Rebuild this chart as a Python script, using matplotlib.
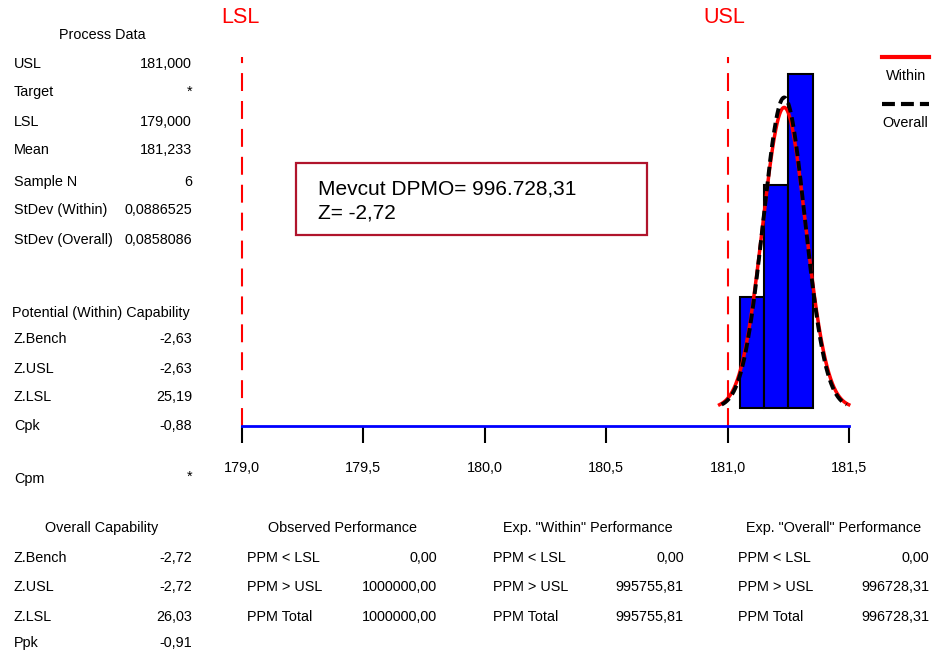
import numpy as np
import matplotlib
matplotlib.use("Agg")
import matplotlib.pyplot as plt
from matplotlib.lines import Line2D
from matplotlib.patches import Rectangle

# ---------------- data ----------------
usl = 181.0
lsl = 179.0
mean = 181.233
n_samples = 6
sd_within = 0.0886525
sd_overall = 0.0858086

bin_left = [181.05, 181.15, 181.25]
bin_width = 0.1
bin_counts = [1, 2, 3]

tick_values = [179.0, 179.5, 180.0, 180.5, 181.0, 181.5]
tick_labels = ["179,0", "179,5", "180,0", "180,5", "181,0", "181,5"]

process_labels = ["USL", "Target", "LSL", "Mean", "Sample N", "StDev (Within)", "StDev (Overall)"]
process_values = ["181,000", "*", "179,000", "181,233", "6", "0,0886525", "0,0858086"]

potential_labels = ["Z.Bench", "Z.USL", "Z.LSL", "Cpk"]
potential_values = ["-2,63", "-2,63", "25,19", "-0,88"]

overall_labels = ["Z.Bench", "Z.USL", "Z.LSL", "Ppk"]
overall_values = ["-2,72", "-2,72", "26,03", "-0,91"]

perf_labels = ["PPM < LSL", "PPM > USL", "PPM Total"]
observed_values = ["0,00", "1000000,00", "1000000,00"]
within_values = ["0,00", "995755,81", "995755,81"]
overall_perf_values = ["0,00", "996728,31", "996728,31"]

box_lines = ["Mevcut DPMO= 996.728,31", "Z= -2,72"]

# ---------------- figure ----------------
W, H = 935, 657
fig = plt.figure(figsize=(W / 100, H / 100), dpi=100)
fig.patch.set_facecolor("white")
FAM = ["Liberation Sans", "DejaVu Sans"]
FS = 10.4


def T(x, y, s, ha="left", size=FS, color="black"):
    fig.text(x / W, 1 - y / H, s, ha=ha, va="baseline", fontsize=size,
             color=color, family=FAM)


# histogram axes
y0, y1 = -0.1617, 3.171
ax = fig.add_axes([242 / W, 1 - 426 / H, (849 - 242) / W, (426 - 55) / H])
ax.set_xlim(tick_values[0], tick_values[-1])
ax.set_ylim(y0, y1)
for s in ["top", "left", "right"]:
    ax.spines[s].set_visible(False)
ax.spines["bottom"].set_color("#0000FF")
ax.spines["bottom"].set_linewidth(2)
ax.set_yticks([])
ax.set_xticks(tick_values)
ax.set_xticklabels(tick_labels, family=FAM, fontsize=FS)
ax.tick_params(axis="x", direction="out", length=12, width=1.5, color="black", pad=13)
ax.set_facecolor("none")

ax.bar(bin_left, bin_counts, width=bin_width, align="edge", color="#0000FF",
       edgecolor="black", linewidth=1.5, zorder=2)

for xv in (lsl, usl):
    ax.plot([xv, xv], [y0, 3.15], color="red", lw=1.5,
            linestyle=(0, (8.6, 4.8)), zorder=1, clip_on=False)


def normal_curve(sd):
    xs = np.linspace(mean - 3 * sd, mean + 3 * sd, 300)
    ys = n_samples * bin_width * np.exp(-0.5 * ((xs - mean) / sd) ** 2) / (sd * np.sqrt(2 * np.pi))
    return xs, ys


xw, yw = normal_curve(sd_within)
xo, yo = normal_curve(sd_overall)
ax.plot(xw, yw, color="red", lw=2.5, zorder=3, clip_on=False)
ax.plot(xo, yo, color="black", lw=2.8, linestyle=(0, (2.5, 1.3)), zorder=4, clip_on=False)

# LSL / USL labels
T(240, 23, "LSL", ha="center", size=15.5, color="red")
T(724, 23, "USL", ha="center", size=15.5, color="red")

# legend
fig.add_artist(Line2D([882 / W, 929 / W], [1 - 57 / H] * 2, color="red", lw=3))
T(906, 80, "Within", ha="center")
fig.add_artist(Line2D([882 / W, 929 / W], [1 - 104 / H] * 2, color="black", lw=3,
                      linestyle=(0, (3.1, 1.45))))
T(905, 127, "Overall", ha="center")

# box
fig.add_artist(Rectangle((296 / W, 1 - 235 / H), (647 - 296) / W, (235 - 163) / H,
                         transform=fig.transFigure, facecolor="none",
                         edgecolor="#B0142C", lw=1.6))
T(318, 195, box_lines[0], size=15)
T(318, 219, box_lines[1], size=15)

# Process data
T(102, 39, "Process Data", ha="center")
pd_base = [68, 96, 126, 154, 186, 214, 244]
for lab, val, yb in zip(process_labels, process_values, pd_base):
    T(14, yb, lab)
    T(192, yb, val, ha="right")

# Potential capability
T(12, 317, "Potential (Within) Capability")
pot_base = [343, 373, 401, 430]
for lab, val, yb in zip(potential_labels, potential_values, pot_base):
    T(14, yb, lab)
    T(192, yb, val, ha="right")
T(14, 483, "Cpm")
T(192, 481, "*", ha="right")

# Overall capability
rows = [562, 591, 621, 647]
T(102, 532, "Overall Capability", ha="center")
for lab, val, yb in zip(overall_labels, overall_values, rows):
    T(14, yb, lab)
    T(192, yb, val, ha="right")

# Performance blocks
blocks = [
    ("Observed Performance", 343, 247, 437, observed_values),
    ('Exp. "Within" Performance', 588, 493, 684, within_values),
    ('Exp. "Overall" Performance', 834, 738, 929, overall_perf_values),
]
for title, cx, lx, rx, vals in blocks:
    T(cx, 532, title, ha="center")
    for lab, val, yb in zip(perf_labels, vals, rows[:3]):
        T(lx, yb, lab)
        T(rx, yb, val, ha="right")

fig.savefig("out.png", dpi=100, facecolor="white")
